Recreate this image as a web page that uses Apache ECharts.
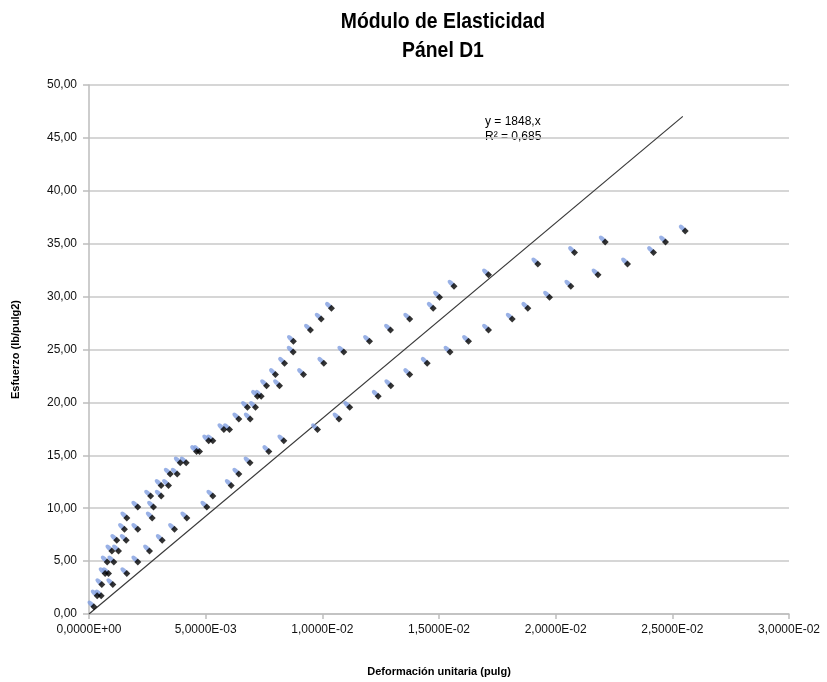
<!DOCTYPE html>
<html>
<head>
<meta charset="utf-8">
<script src="https://cdn.jsdelivr.net/npm/echarts@6/dist/echarts.min.js"></script>
<style>
html,body{margin:0;padding:0;background:#fff;}
#chart{width:827px;height:682px;}
</style>
</head>
<body>
<div id="chart"></div>
<script>
// Series data (stress in lb/pulg2, strain in pulg/pulg)
const stressA = [0.68,1.72,2.78,3.82,4.92,5.96,6.96,8.00,9.08,10.11,11.15,12.15,13.23,14.29,15.36,16.37,17.43,18.44,19.53,20.58,21.58,22.64,23.70,24.76,25.77,26.84,27.88,28.90];
const strainA = [0.00021,0.00035,0.00055,0.00069,0.00078,0.00098,0.00119,0.00152,0.00162,0.00209,0.00264,0.00309,0.00348,0.00391,0.00461,0.00513,0.00578,0.00642,0.00679,0.00722,0.00761,0.00799,0.00838,0.00875,0.00876,0.00949,0.00995,0.01039];

const stressB = [3.82,4.92,5.96,6.96,8.00,9.08,10.11,11.15,12.15,13.23,14.29,15.36,16.37,17.43,18.44,19.53,20.58,21.58,22.64,23.70,24.76,25.77,26.84,27.88,28.90,29.95,30.99,32.06,33.09,34.17,35.17];
const strainB = [0.000836,0.001063,0.001264,0.001594,0.002091,0.002709,0.002764,0.003094,0.003407,0.00378,0.004166,0.004736,0.005306,0.006021,0.006909,0.007136,0.00738,0.008164,0.009193,0.010063,0.01092,0.012021,0.012921,0.013744,0.014751,0.015021,0.015643,0.017121,0.019234,0.020807,0.022123];

const stressC = [1.72,2.78,3.82,4.92,5.96,6.96,8.00,9.08,10.11,11.15,12.15,13.23,14.29,15.36,16.37,17.43,18.44,19.53,20.58,21.58,22.64,23.70,24.76,25.77,26.84,27.88,28.90,29.95,30.99,32.06,33.09,34.17,35.17,36.20];
const strainC = [0.000523,0.00102,0.00162,0.002091,0.002593,0.003137,0.003664,0.004191,0.005049,0.005306,0.006094,0.00642,0.0069,0.007706,0.008349,0.009793,0.010714,0.011173,0.012394,0.012934,0.013744,0.014494,0.015471,0.016264,0.017121,0.018137,0.018806,0.019736,0.020649,0.021814,0.023079,0.024193,0.024707,0.025551];

// Trend line (linear through origin)
const trendSlope = 1848;
const trendX = [0, 0.02545];
const trendText = ['y = 1848,x', 'R² = 0,685'];

// Axis settings
const xMin = 0, xMax = 0.03, xStep = 0.005;
const yMin = 0, yMax = 50, yStep = 5;

const titleLines = ['Módulo de Elasticidad', 'Pánel D1'];
const xName = 'Deformación unitaria (pulg)';
const yName = 'Esfuerzo (lb/pulg2)';

function zip(xs, ys){ return xs.map((x,i)=>[x, ys[i]]); }
const points = [].concat(zip(strainA, stressA), zip(strainB, stressB), zip(strainC, stressC));
const trendData = trendX.map(x => [x, trendSlope * x]);

function sci(v){
  if (Math.abs(v) < 1e-12) return '0,0000E+00';
  const s = v.toExponential(4);
  const parts = s.split('e');
  const mant = parts[0].replace('.', ',');
  let ex = parseInt(parts[1], 10);
  const sign = ex < 0 ? '-' : '+';
  ex = Math.abs(ex);
  return mant + 'E' + sign + (ex < 10 ? '0' + ex : '' + ex);
}

const FONT = 'Liberation Sans';
const chart = echarts.init(document.getElementById('chart'), null, {renderer:'canvas'});
chart.setOption({
  animation: false,
  backgroundColor: '#fff',
  grid: {left: 89, right: 38, top: 85, bottom: 67, containLabel: false},
  xAxis: {
    type: 'value', min: xMin, max: xMax, interval: xStep,
    name: xName, nameLocation: 'middle', nameGap: 52,
    nameTextStyle: {fontFamily: FONT, fontWeight: 'bold', fontSize: 11, color: '#000'},
    axisLine: {show: true, lineStyle: {color: '#bdbdbd', width: 1.5}},
    axisTick: {show: true, length: 5, lineStyle: {color: '#bdbdbd', width: 1.5}},
    axisLabel: {formatter: sci, fontFamily: FONT, fontSize: 12, color: '#111', margin: 10},
    splitLine: {show: false}
  },
  yAxis: {
    type: 'value', min: yMin, max: yMax, interval: yStep,
    name: yName, nameLocation: 'middle', nameGap: 68, nameRotate: 90,
    nameTextStyle: {fontFamily: FONT, fontWeight: 'bold', fontSize: 11, color: '#000'},
    axisLine: {show: true, lineStyle: {color: '#bdbdbd', width: 1.5}},
    axisTick: {show: true, length: 6, lineStyle: {color: '#bdbdbd', width: 1.5}},
    axisLabel: {formatter: v => v.toFixed(2).replace('.', ','), fontFamily: FONT, fontSize: 12, color: '#111', margin: 12},
    splitLine: {show: true, lineStyle: {color: '#c8c8c8', width: 1.5}}
  },
  graphic: [
    {type: 'text', x: 443, y: 11, scaleX: 0.88, style: {text: titleLines[0], font: 'bold 22px "Liberation Sans"', fill: '#000', textAlign: 'center'}},
    {type: 'text', x: 443, y: 40, scaleX: 0.88, style: {text: titleLines[1], font: 'bold 22px "Liberation Sans"', fill: '#000', textAlign: 'center'}},
    {type: 'text', x: 485, y: 116, style: {text: trendText[0], font: '12px "Liberation Sans"', fill: '#000'}},
    {type: 'text', x: 485, y: 131, style: {text: trendText[1], font: '12px "Liberation Sans"', fill: '#000'}}
  ],
  series: [
    {
      type: 'line', data: trendData, showSymbol: false, symbol: 'none',
      lineStyle: {color: '#3a3a3a', width: 1.2}, z: 1, silent: true
    },
    {
      type: 'scatter', data: points, symbol: 'circle', symbolSize: [8, 4.5], symbolRotate: -45,
      symbolOffset: [-3, -3],
      itemStyle: {color: '#7f9de0'}, z: 2
    },
    {
      type: 'scatter', data: points, symbol: 'diamond', symbolSize: 7,
      itemStyle: {color: '#000'}, z: 3
    }
  ]
});
</script>
</body>
</html>
